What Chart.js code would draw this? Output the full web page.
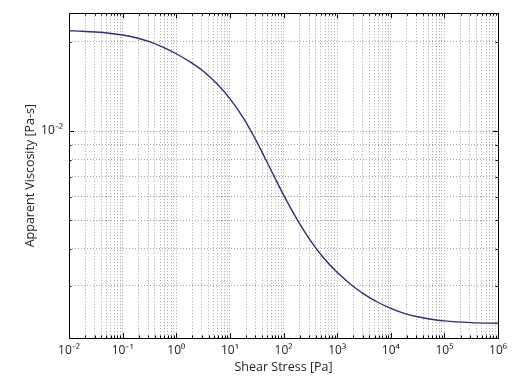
<!DOCTYPE html>
<html>
<head>
<meta charset="utf-8">
<script src="https://cdn.jsdelivr.net/npm/chart.js@4/dist/chart.umd.min.js"></script>
<style>
  html, body { margin: 0; padding: 0; background: #fff; }
  #wrap { width: 518px; height: 383px; }
</style>
</head>
<body>
<div id="wrap"><canvas id="c" width="518" height="383"></canvas></div>
<script>
// Shear stress [Pa] (x) and apparent viscosity [Pa-s] (y)
const shearStress = [0.01, 0.01778, 0.03162, 0.05623, 0.1, 0.1778, 0.3162, 0.5623, 1, 1.778, 3.162, 5.623, 10, 17.78, 31.62, 56.23,
                     100, 177.8, 316.2, 562.3, 1000, 1778, 3162, 5623, 10000, 17783, 31623, 56234, 100000, 316228, 1000000];
const viscosity   = [0.021816, 0.021730, 0.021597, 0.021399, 0.021105, 0.020654, 0.020030, 0.019203, 0.018239, 0.017153, 0.015947, 0.014488, 0.012866, 0.011074, 0.009211, 0.007486,
                     0.006085, 0.005043, 0.004276, 0.003724, 0.003332, 0.003039, 0.002814, 0.002646, 0.002518, 0.002423, 0.002359, 0.002314, 0.002284, 0.002254, 0.002242];

// Axis ticks
const xMajorTicks = [0.01, 0.1, 1, 10, 100, 1000, 10000, 100000, 1000000];
const xTickLabels = ['10\u207B\u00B2', '10\u207B\u00B9', '10\u2070', '10\u00B9', '10\u00B2', '10\u00B3', '10\u2074', '10\u2075', '10\u2076'];
const yGridTicks  = [0.002, 0.003, 0.004, 0.005, 0.006, 0.007, 0.008, 0.009, 0.01, 0.02];
const yMajorTicks = [0.01];
const yTickLabels = ['10\u207B\u00B2'];

function buildXTicks() {
  const out = [];
  for (let i = 0; i < xMajorTicks.length; i++) {
    const base = xMajorTicks[i];
    out.push({ value: base, major: true });
    if (i < xMajorTicks.length - 1) {
      for (let m = 2; m <= 9; m++) out.push({ value: m * base, major: false });
    }
  }
  return out;
}
function findMajor(arr, v) {
  for (let i = 0; i < arr.length; i++) {
    if (Math.abs(arr[i] - v) / arr[i] < 1e-6) return i;
  }
  return -1;
}

const frame = {
  id: 'frame',
  afterDatasetsDraw(chart) {
    const { ctx, chartArea: a, scales } = chart;
    ctx.save();
    ctx.setLineDash([]);
    ctx.strokeStyle = '#000';
    ctx.lineWidth = 1;
    scales.x.ticks.forEach(t => {
      const px = Math.round(scales.x.getPixelForValue(t.value)) + 0.5;
      const len = findMajor(xMajorTicks, t.value) >= 0 ? 5 : 2.5;
      ctx.beginPath();
      ctx.moveTo(px, a.bottom); ctx.lineTo(px, a.bottom - len);
      ctx.moveTo(px, a.top); ctx.lineTo(px, a.top + len);
      ctx.stroke();
    });
    scales.y.ticks.forEach(t => {
      const py = Math.round(scales.y.getPixelForValue(t.value)) + 0.5;
      const len = findMajor(yMajorTicks, t.value) >= 0 ? 5 : 2.5;
      ctx.beginPath();
      ctx.moveTo(a.left, py); ctx.lineTo(a.left + len, py);
      ctx.moveTo(a.right, py); ctx.lineTo(a.right - len, py);
      ctx.stroke();
    });
    ctx.strokeRect(Math.round(a.left) + 0.5, Math.round(a.top) + 0.5,
                   Math.round(a.right - a.left), Math.round(a.bottom - a.top));
    ctx.restore();
  }
};

const gridCommon = {
  color: '#a4a4a4',
  lineWidth: 1,
  drawTicks: false
};
const borderCommon = { display: false, dash: [1, 2] };
const tickFont = { family: 'Open Sans', size: 12 };
const titleFont = { family: 'Open Sans', size: 12.5 };

new Chart(document.getElementById('c'), {
  type: 'line',
  data: {
    datasets: [{
      data: shearStress.map((x, i) => ({ x: x, y: viscosity[i] })),
      borderColor: '#2f3070',
      borderWidth: 1.4,
      pointRadius: 0,
      fill: false,
      cubicInterpolationMode: 'monotone'
    }]
  },
  options: {
    responsive: false,
    animation: false,
    events: [],
    layout: { padding: { top: 10, right: 20, left: 0, bottom: 0 } },
    plugins: { legend: { display: false }, tooltip: { enabled: false } },
    scales: {
      x: {
        type: 'logarithmic',
        min: 0.01,
        max: 1000000,
        border: borderCommon,
        grid: gridCommon,
        afterBuildTicks: s => { s.ticks = buildXTicks(); },
        afterFit: s => { s.height = 45; },
        ticks: {
          autoSkip: false,
          maxRotation: 0,
          padding: 5,
          color: '#222',
          font: tickFont,
          callback: v => { const i = findMajor(xMajorTicks, v); return i >= 0 ? xTickLabels[i] : ''; }
        },
        title: {
          display: true,
          text: 'Shear Stress [Pa]',
          color: '#222',
          font: titleFont,
          padding: { top: 0, bottom: 8 }
        }
      },
      y: {
        type: 'logarithmic',
        min: 0.002,
        max: 0.025,
        border: borderCommon,
        grid: gridCommon,
        afterBuildTicks: s => { s.ticks = yGridTicks.map(v => ({ value: v, major: findMajor(yMajorTicks, v) >= 0 })); },
        afterFit: s => { s.width = 69; },
        ticks: {
          autoSkip: false,
          padding: 6,
          color: '#222',
          font: tickFont,
          callback: v => { const i = findMajor(yMajorTicks, v); return i >= 0 ? yTickLabels[i] : ''; }
        },
        title: {
          display: true,
          text: 'Apparent Viscosity [Pa-s]',
          color: '#222',
          font: titleFont,
          padding: { top: 23, bottom: 0 }
        }
      }
    }
  },
  plugins: [frame]
});
</script>
</body>
</html>
